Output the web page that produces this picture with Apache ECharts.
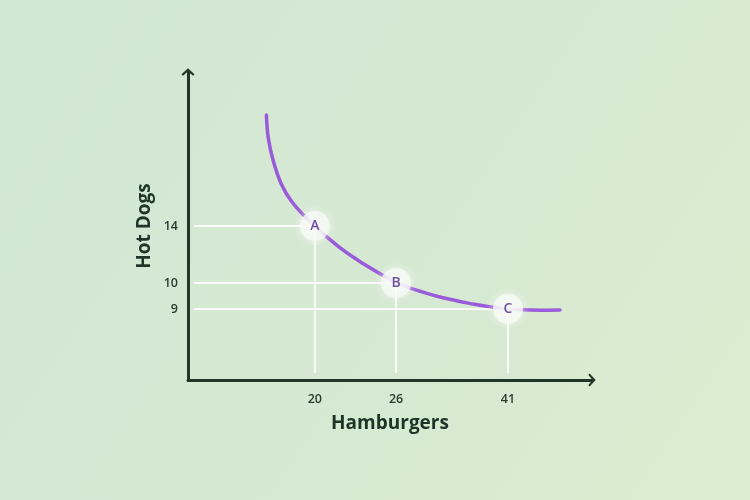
<!DOCTYPE html>
<html>
<head>
<meta charset="utf-8">
<script src="https://cdn.jsdelivr.net/npm/echarts@6/dist/echarts.min.js"></script>
<style>
  html, body { margin: 0; padding: 0; }
  #chart { width: 750px; height: 500px; }
</style>
</head>
<body>
<div id="chart"></div>
<script>
// ---- data ----
const pointNames = ['A', 'B', 'C'];
const hamburgers = [20, 26, 41];   // x of labelled points / x tick labels
const hotDogs = [14, 10, 9];       // y of labelled points / y tick labels

// indifference curve, sampled along its length
const curveHamburgers = [16.42, 16.56, 16.93, 17.52, 18.26, 19.26, 20, 20.52, 22.07, 23.56, 25.04, 26, 28.01, 31.89, 36.31, 38.99, 41, 42.6, 45.28, 47.96];
const curveHotDogs    = [21.79, 20.18, 18.56, 16.95, 15.75, 14.67, 14, 13.54, 12.32, 11.37, 10.53, 10.04, 9.79, 9.46, 9.19, 9.07, 9, 8.97, 8.95, 8.96];

// ---- schematic (not-to-scale) axis scale: tick value -> position on a 0..100 axis ----
const xTickPos = [31.4, 51.5, 79.2];
const yTickPos = [50, 31.5, 23.05];

function makeScale(vals, pos) {
  const pairs = vals.map((v, i) => [v, pos[i]]).sort((a, b) => a[0] - b[0]);
  return function (v) {
    let i = 0;
    if (v <= pairs[0][0]) i = 0;
    else if (v >= pairs[pairs.length - 1][0]) i = pairs.length - 2;
    else { while (!(v >= pairs[i][0] && v <= pairs[i + 1][0])) i++; }
    const [v0, p0] = pairs[i], [v1, p1] = pairs[i + 1];
    return p0 + (v - v0) * (p1 - p0) / (v1 - v0);
  };
}
const sx = makeScale(hamburgers, xTickPos);
const sy = makeScale(hotDogs, yTickPos);
function labelFor(pos, ticks, tickPos) {
  let best = 0;
  tickPos.forEach((p, i) => { if (Math.abs(p - pos) < Math.abs(tickPos[best] - pos)) best = i; });
  return String(ticks[best]);
}

const curveData = curveHamburgers.map((h, i) => [sx(h), sy(curveHotDogs[i])]);
const pointData = hamburgers.map((h, i) => ({ value: [sx(h), sy(hotDogs[i])], name: pointNames[i] }));

const guideSeries = hamburgers.map((h, i) => ({
  type: 'line',
  silent: true,
  symbol: 'none',
  z: 1,
  lineStyle: { color: 'rgba(255,255,255,0.85)', width: 2 },
  data: [[1.5, sy(hotDogs[i])], [sx(h), sy(hotDogs[i])], [sx(h), 2.3]]
}));

const axisColor = '#213626';
const arrow = 'path://M0,0 L7,6.5 L5.3,8 L0,3.3 L-5.3,8 L-7,6.5 Z';
const font = '"Open Sans", "Noto Sans", sans-serif';

const chart = echarts.init(document.getElementById('chart'), null, { renderer: 'canvas' });
chart.setOption({
  animation: false,
  backgroundColor: {
    type: 'linear', x: 0, y: 0, x2: 1, y2: 1,
    colorStops: [
      { offset: 0, color: '#d2e7d4' },
      { offset: 0.6, color: '#d6e9d2' },
      { offset: 1, color: '#dcedcf' }
    ]
  },
  grid: { left: 188, right: 158, top: 72, bottom: 120 },
  xAxis: {
    type: 'value', min: 0, max: 100,
    name: 'Hamburgers', nameLocation: 'middle', nameGap: 34, nameMoveOverlap: false,
    nameTextStyle: { fontSize: 19, fontWeight: 'bold', color: '#1e3426', fontFamily: font },
    axisLine: { show: true, symbol: ['none', arrow], symbolSize: [13, 9], lineStyle: { color: axisColor, width: 3 } },
    axisTick: { show: false },
    splitLine: { show: false },
    axisLabel: {
      customValues: hamburgers.map(sx),
      formatter: v => labelFor(v, hamburgers, xTickPos),
      margin: 13, fontSize: 12.5, fontWeight: 600, color: '#2c3b31', fontFamily: font
    }
  },
  yAxis: {
    type: 'value', min: 0, max: 100,
    name: 'Hot Dogs', nameLocation: 'middle', nameGap: 34, nameMoveOverlap: false,
    nameTextStyle: { fontSize: 19, fontWeight: 'bold', color: '#1e3426', fontFamily: font },
    axisLine: { show: true, symbol: ['none', arrow], symbolSize: [13, 9], lineStyle: { color: axisColor, width: 3 } },
    axisTick: { show: false },
    splitLine: { show: false },
    axisLabel: {
      customValues: hotDogs.map(sy),
      formatter: v => labelFor(v, hotDogs, yTickPos),
      margin: 10, fontSize: 12.5, fontWeight: 600, color: '#2c3b31', fontFamily: font
    }
  },
  series: [
    ...guideSeries,
    {
      type: 'line', smooth: 0.4, symbol: 'none', z: 3,
      lineStyle: { color: '#9a5bda', width: 3.5, cap: 'round' },
      data: curveData
    },
    {
      type: 'scatter', z: 5,
      symbolSize: 30,
      itemStyle: { color: 'rgba(247,250,245,0.93)', shadowBlur: 8, shadowColor: 'rgba(255,255,255,0.9)' },
      label: {
        show: true, position: 'inside', formatter: p => p.name,
        color: '#4b2a8c', fontSize: 14, fontWeight: 600, fontFamily: font
      },
      data: pointData
    }
  ]
});
</script>
</body>
</html>
